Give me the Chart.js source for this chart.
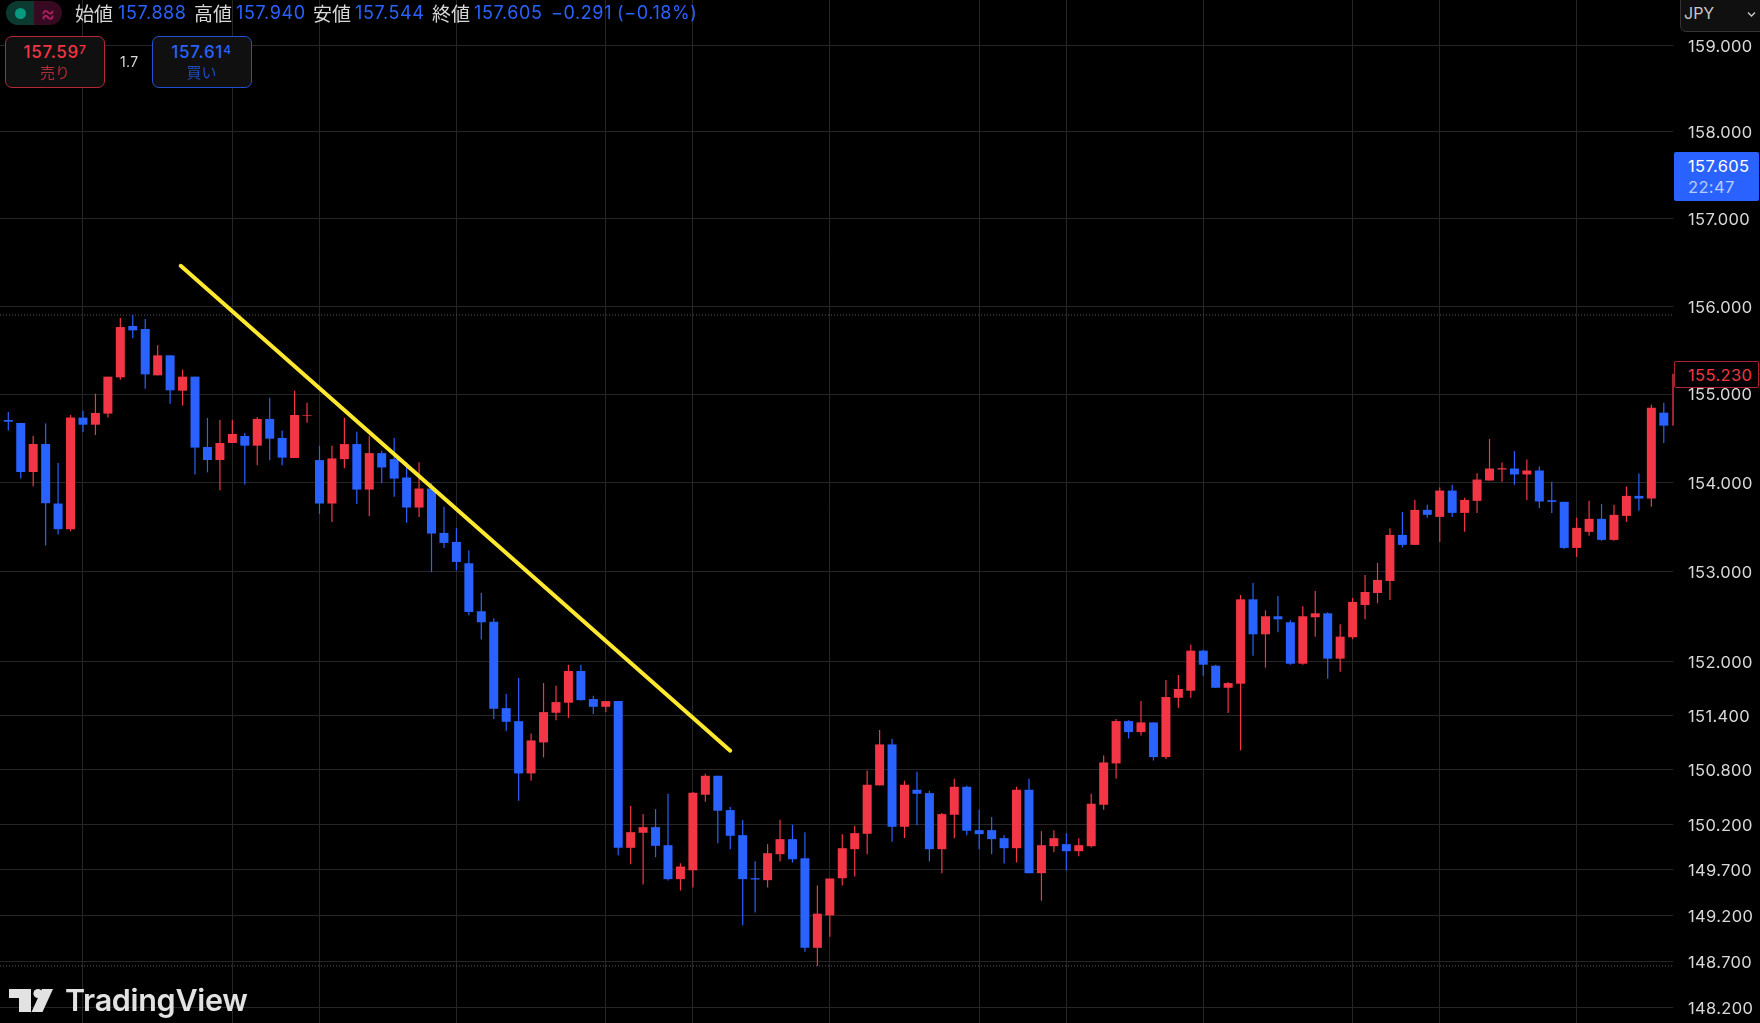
<!DOCTYPE html>
<html lang="ja">
<head>
<meta charset="utf-8">
<title>USD/JPY</title>
<script src="https://cdn.jsdelivr.net/npm/chart.js@4/dist/chart.umd.min.js"></script>
<style>
  html, body { margin: 0; padding: 0; background: #000; overflow: hidden; }
  #wrap { position: relative; width: 1760px; height: 1023px; background: #000; font-family: Inter, sans-serif; }
  #wrap canvas { position: absolute; left: 0; top: 0; }
  .abs { position: absolute; white-space: nowrap; }
  .jp { font-family: "Noto Sans CJK JP", sans-serif; color: #d8d8d8; font-size: 19px; line-height: 24px; top: 1px; }
  .num { color: #2962ff; font-size: 18px; letter-spacing: .6px; line-height: 24px; top: 1px; }
  .status { left: 6px; top: 1px; width: 56px; height: 24px; border-radius: 12px; overflow: hidden; display: flex; }
  .status div { width: 50%; display: flex; align-items: center; justify-content: center; }
  .dot { width: 11px; height: 11px; border-radius: 50%; background: #089981; }
  .box { top: 36px; width: 100px; height: 52px; border-radius: 7px; background: #101010; border: 1.5px solid; text-align: center; box-sizing: border-box; }
  .box .p { font-size: 17px; letter-spacing: .7px; line-height: 20px; margin-top: 5px; font-weight: 500; }
  .box .p sup { font-size: 12px; line-height: 0; vertical-align: 4px; }
  .box .l { font-family: "Noto Sans CJK JP", sans-serif; font-size: 15px; line-height: 20px; opacity: .72; }
  .sell { left: 5px; border-color: #b2283a; color: #f23645; }
  .buy { left: 151.5px; border-color: #2350d0; color: #2962ff; }
  .tag { left: 1674px; width: 85px; box-sizing: border-box; padding-left: 14px; font-size: 16.5px; letter-spacing: .35px; border-radius: 2px; }
</style>
</head>
<body>
<div id="wrap">
  <canvas id="chart" width="1760" height="1023"></canvas>

  <!-- OHLC header -->
  <div class="abs status">
    <div style="background:#0c3a30"><span class="dot"></span></div>
    <div style="background:#380a22;color:#b0205f;font-size:22px">≈</div>
  </div>
  <span class="abs jp" style="left:75px">始値</span><span class="abs num" style="left:118px">157.888</span>
  <span class="abs jp" style="left:194px">高値</span><span class="abs num" style="left:236px">157.940</span>
  <span class="abs jp" style="left:313px">安値</span><span class="abs num" style="left:355px">157.544</span>
  <span class="abs jp" style="left:432px">終値</span><span class="abs num" style="left:474px">157.605</span>
  <span class="abs num" style="left:551px">−0.291</span>
  <span class="abs num" style="left:617px">(−0.18%)</span>

  <!-- sell / buy buttons -->
  <div class="abs box sell"><div class="p">157.59<sup>7</sup></div><div class="l">売り</div></div>
  <span class="abs" style="left:120px;top:53px;color:#d8d8d8;font-size:14px;letter-spacing:.4px;line-height:18px">1.7</span>
  <div class="abs box buy"><div class="p">157.61<sup>4</sup></div><div class="l">買い</div></div>

  <!-- right axis widgets -->
  <div class="abs" style="left:1680px;top:-1px;width:81px;height:33px;box-sizing:border-box;background:#101010;border:1px solid #333;border-radius:0 0 0 6px;color:#c8c8c8;font-size:16px;line-height:27px;padding-left:3px">JPY
    <svg style="position:absolute;left:66px;top:11px" width="9" height="7"><path d="M1 1.5 L4.5 5 L8 1.5" fill="none" stroke="#c8c8c8" stroke-width="1.4"/></svg>
  </div>
  <div class="abs tag" style="top:152px;height:49px;background:#2962ff;color:#fff;line-height:21px;padding-top:4px">157.605<br><span style="color:#b9ccff">22:47</span></div>
  <div class="abs tag" style="top:361px;height:27px;background:#000;border:1px solid #a92330;color:#f23645;line-height:26px;padding-left:13px">155.230</div>

  <!-- logo -->
  <svg class="abs" style="left:8px;top:988px" width="46" height="25" viewBox="0 0 46 25">
    <path d="M1 1 H23 V24 H11 V10 H1 Z" fill="#e2e2e2"/>
    <circle cx="30" cy="5.5" r="4.6" fill="#e2e2e2"/>
    <path d="M34 1 H45 L34.5 24 H23.5 Z" fill="#e2e2e2"/>
  </svg>
  <span class="abs" style="left:65px;top:980px;color:#e2e2e2;font-size:30.5px;line-height:40px;font-weight:600;letter-spacing:-.3px">TradingView</span>
</div>

<script>
// 4h candles, oldest first. Red closes above its open, blue below.
const opens = [
  154.706, 154.672, 154.119, 154.435, 153.764, 153.476, 154.733, 154.653, 154.778, 155.189,
  155.773, 155.739, 155.212, 155.439, 155.038, 155.197, 154.401, 154.254, 154.446, 154.525,
  154.416, 154.718, 154.503, 154.277, 154.755, 154.253, 153.764, 154.264, 154.434, 153.921,
  154.332, 154.264, 154.057, 153.719, 153.933, 153.434, 153.333, 153.094, 152.558, 152.442,
  151.481, 151.337, 150.760, 151.102, 151.430, 151.541, 151.893, 151.582, 151.496, 151.559,
  149.942, 150.107, 150.169, 149.971, 149.599, 149.696, 150.525, 150.734, 150.356, 150.081,
  149.609, 149.588, 149.872, 150.037, 149.828, 148.850, 149.204, 149.609, 149.927, 150.096,
  150.628, 151.080, 150.173, 150.580, 150.543, 149.927, 150.305, 150.613, 150.136, 150.136,
  150.048, 149.938, 150.580, 149.664, 149.960, 149.982, 149.905, 149.960, 150.415, 150.870,
  151.338, 151.216, 151.323, 150.940, 151.596, 151.674, 152.119, 151.952, 151.707, 151.752,
  152.691, 152.301, 152.502, 152.435, 151.974, 152.491, 152.535, 152.030, 152.268, 152.628,
  152.762, 152.896, 153.412, 153.300, 153.693, 153.614, 153.910, 153.659, 153.794, 154.023,
  154.147, 154.158, 154.091, 154.136, 153.801, 153.783, 153.266, 153.446, 153.592, 153.356,
  153.625, 153.850, 153.820, 154.789
];
const highs = [
  154.797, 154.672, 154.529, 154.665, 154.220, 154.763, 154.812, 155.004, 155.197, 155.864,
  155.898, 155.852, 155.553, 155.439, 155.277, 155.197, 154.729, 154.706, 154.706, 154.559,
  154.740, 154.959, 154.586, 155.038, 154.902, 154.415, 154.415, 154.732, 154.574, 154.528,
  154.358, 154.502, 154.230, 154.230, 153.993, 153.727, 153.491, 153.240, 152.762, 152.480,
  151.637, 151.815, 151.201, 151.759, 151.730, 151.963, 151.963, 151.619, 151.559, 151.559,
  150.400, 150.312, 150.367, 150.536, 149.773, 150.554, 150.756, 150.734, 150.389, 150.246,
  149.795, 149.982, 150.250, 150.195, 150.114, 149.530, 149.606, 150.092, 150.184, 150.793,
  151.238, 151.139, 150.679, 150.778, 150.569, 150.323, 150.701, 150.624, 150.360, 150.279,
  150.081, 150.613, 150.701, 150.125, 150.136, 150.103, 150.048, 150.536, 150.958, 151.360,
  151.348, 151.559, 151.323, 151.793, 151.848, 152.186, 152.130, 151.963, 151.770, 152.740,
  152.874, 152.569, 152.729, 152.457, 152.613, 152.784, 152.547, 152.413, 152.706, 152.963,
  153.097, 153.487, 153.670, 153.805, 153.749, 153.944, 153.974, 153.828, 154.106, 154.491,
  154.226, 154.355, 154.260, 154.181, 154.008, 153.783, 153.603, 153.794, 153.760, 153.749,
  153.955, 154.101, 154.879, 154.902
];
const lows = [
  154.586, 154.047, 153.959, 153.292, 153.416, 153.453, 154.571, 154.537, 154.733, 155.163,
  155.633, 155.061, 155.212, 154.891, 154.868, 154.092, 154.115, 153.914, 154.446, 153.978,
  154.194, 154.250, 154.194, 154.277, 154.676, 153.648, 153.558, 154.162, 153.760, 153.625,
  153.996, 153.839, 153.547, 153.614, 152.996, 153.266, 153.015, 152.513, 152.243, 151.360,
  151.227, 150.459, 150.679, 150.936, 151.348, 151.374, 151.563, 151.415, 151.437, 149.861,
  149.762, 149.541, 149.839, 149.584, 149.475, 149.508, 150.448, 149.993, 149.927, 149.095,
  149.236, 149.508, 149.792, 149.781, 148.806, 148.653, 148.970, 149.530, 149.628, 149.872,
  150.628, 150.008, 150.048, 150.190, 149.792, 149.664, 150.048, 150.081, 149.927, 149.872,
  149.770, 149.781, 149.664, 149.363, 149.894, 149.693, 149.850, 149.945, 150.360, 150.705,
  151.146, 151.179, 150.903, 150.918, 151.485, 151.596, 151.841, 151.707, 151.426, 151.014,
  152.063, 151.930, 152.323, 151.963, 151.963, 152.275, 151.807, 151.885, 152.246, 152.468,
  152.647, 152.684, 153.270, 153.300, 153.603, 153.333, 153.614, 153.446, 153.659, 154.023,
  154.008, 153.974, 153.805, 153.715, 153.659, 153.255, 153.165, 153.401, 153.345, 153.345,
  153.558, 153.682, 153.727, 154.445
];
const closes = [
  154.687, 154.119, 154.435, 153.768, 153.476, 154.733, 154.653, 154.785, 155.197, 155.761,
  155.723, 155.223, 155.439, 155.042, 155.197, 154.394, 154.254, 154.446, 154.548, 154.416,
  154.718, 154.495, 154.281, 154.763, 154.763, 153.764, 154.272, 154.434, 153.921, 154.332,
  154.170, 154.045, 153.719, 153.933, 153.427, 153.322, 153.109, 152.550, 152.435, 151.474,
  151.330, 150.760, 151.124, 151.437, 151.548, 151.893, 151.570, 151.496, 151.559, 149.942,
  150.114, 150.169, 149.964, 149.599, 149.737, 150.547, 150.734, 150.349, 150.074, 149.599,
  149.595, 149.883, 150.037, 149.817, 148.850, 149.222, 149.606, 149.938, 150.103, 150.635,
  151.080, 150.173, 150.635, 150.536, 149.927, 150.312, 150.613, 150.129, 150.092, 150.037,
  149.938, 150.580, 149.664, 149.971, 150.048, 149.905, 149.971, 150.426, 150.881, 151.338,
  151.216, 151.323, 150.940, 151.604, 151.693, 152.119, 151.963, 151.707, 151.759, 152.691,
  152.301, 152.502, 152.468, 151.974, 152.502, 152.535, 152.030, 152.275, 152.662, 152.773,
  152.907, 153.412, 153.300, 153.693, 153.637, 153.910, 153.659, 153.805, 154.034, 154.158,
  154.162, 154.091, 154.136, 153.787, 153.783, 153.266, 153.491, 153.592, 153.356, 153.637,
  153.850, 153.820, 154.845, 154.642
];

const yTicks = [159, 158, 157, 156, 155, 154, 153, 152, 151.4, 150.8, 150.2, 149.7, 149.2, 148.7, 148.2];
const timeGridIndexes = [6, 18, 25, 36, 48, 55, 66, 78, 85, 96, 108, 115, 126];

const trendFrom = { x: 13.85, y: 156.46 };
const trendTo = { x: 58.0, y: 151.01 };
const liveWick = [154.64, 155.23];

const xMin = -0.667, xMax = 133.74;
const yMin = 148.034, yMax = 159.53;

const UP = '#f23645';
const DOWN = '#2962ff';
const GRID = '#262626';

const candleColors = closes.map((c, i) => (c >= opens[i] ? UP : DOWN));
const xs = closes.map((c, i) => i);

// right edge of the plot keeps a fixed axis width, no auto padding at the edges
function fixAxis(scale) {
  scale.paddingTop = 0;
  scale.paddingBottom = 0;
  scale.paddingLeft = 0;
  scale.paddingRight = 0;
}

// axis digits are spaced a little wider than the font's default
const axisTextSpacing = {
  id: 'axisTextSpacing',
  beforeDraw: chart => { chart.ctx.letterSpacing = '0.35px'; }
};

new Chart(document.getElementById('chart'), {
  plugins: [axisTextSpacing],
  data: {
    datasets: [
      {
        type: 'line',
        label: 'trend',
        data: [trendFrom, trendTo],
        borderColor: '#ffe92f',
        borderWidth: 4,
        borderCapStyle: 'round',
        pointRadius: 0,
        order: 0
      },
      {
        type: 'bar',
        label: 'bodies',
        data: xs.map(i => ({ x: i, y: [opens[i], closes[i]] })),
        backgroundColor: candleColors,
        grouped: false,
        barPercentage: 1,
        maxBarThickness: 9,
        order: 1
      },
      {
        type: 'bar',
        label: 'wicks',
        data: xs.map(i => ({ x: i, y: [lows[i], highs[i]] })),
        backgroundColor: candleColors,
        grouped: false,
        barPercentage: 1,
        maxBarThickness: 1.2,
        order: 2
      },
      {
        // the candle still forming, only its wick reaches into the plot
        type: 'line',
        label: 'live',
        data: liveWick.map(y => ({ x: xMax, y })),
        borderColor: '#9c2433',
        borderWidth: 2,
        pointRadius: 0,
        clip: false,
        order: 3
      },
      {
        type: 'line',
        label: 'high',
        data: [{ x: xMin, y: Math.max(...highs) }, { x: xMax, y: Math.max(...highs) }],
        borderColor: '#5a5a5a',
        borderWidth: 1,
        borderDash: [1, 2],
        pointRadius: 0,
        order: 4
      },
      {
        type: 'line',
        label: 'low',
        data: [{ x: xMin, y: Math.min(...lows) }, { x: xMax, y: Math.min(...lows) }],
        borderColor: '#5a5a5a',
        borderWidth: 1,
        borderDash: [1, 2],
        pointRadius: 0,
        order: 4
      }
    ]
  },
  options: {
    responsive: false,
    animation: false,
    events: [],
    layout: { padding: 0 },
    plugins: { legend: { display: false }, tooltip: { enabled: false } },
    scales: {
      x: {
        type: 'linear',
        offset: false,
        min: xMin,
        max: xMax,
        afterBuildTicks: scale => { scale.ticks = timeGridIndexes.map(value => ({ value })); },
        afterFit: scale => { scale.height = 0; fixAxis(scale); },
        grid: { color: GRID, drawTicks: false, offset: false },
        border: { display: false },
        ticks: { display: false }
      },
      y: {
        type: 'logarithmic',
        position: 'right',
        min: yMin,
        max: yMax,
        afterBuildTicks: scale => { scale.ticks = yTicks.map(value => ({ value })); },
        afterFit: scale => { scale.width = 87; fixAxis(scale); },
        grid: { color: GRID, drawTicks: false },
        border: { display: false },
        ticks: {
          autoSkip: false,
          padding: 15,
          color: '#d8d8d8',
          // empty first line with a short line height nudges the digits down onto the grid line
          font: { family: 'Inter', size: 16.5, lineHeight: '3px' },
          callback: value => ['', Number(value).toFixed(3)]
        }
      }
    }
  }
});
</script>
</body>
</html>
